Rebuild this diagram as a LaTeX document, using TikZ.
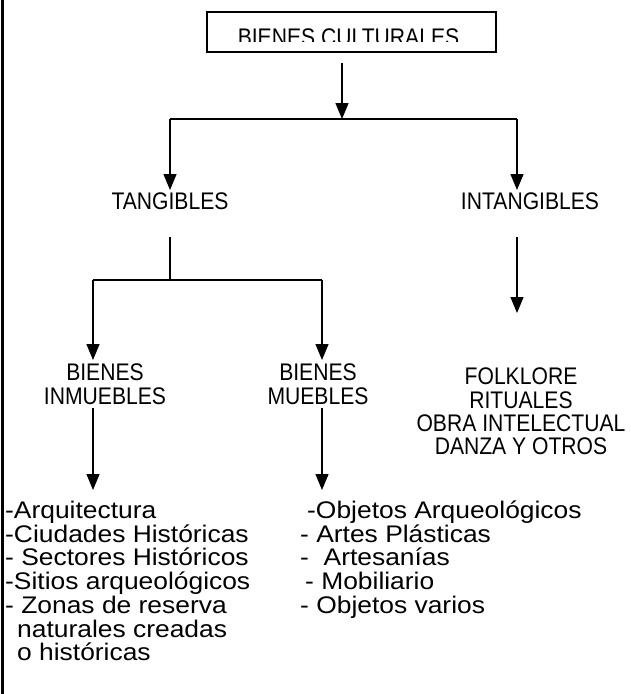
\documentclass[tikz,border=0pt]{standalone}
\usepackage{fontspec}
\setmainfont{Liberation Sans}
\newfontfamily\hdrfont{Liberation Sans}[FakeStretch=0.88]
\newfontfamily\listfont{Liberation Sans}[FakeStretch=1.1]
\usetikzlibrary{arrows.meta}
\begin{document}
\begin{tikzpicture}[x=1pt,y=-1pt,
  conn/.style={line width=1.4pt},
  arr/.style={conn,-{Triangle[length=16pt,width=13pt]}},
  hdr/.style={font=\hdrfont\fontsize{24}{23.3}\selectfont, inner sep=0pt, align=center},
  item/.style={font=\listfont\fontsize{24}{23.7}\selectfont, inner sep=0pt, anchor=base west,
    text height=17pt, text depth=5pt}]
\useasboundingbox (0,0) rectangle (631,694);
\draw[line width=3pt] (2,0) -- (2,694);

% title box with clipped text
\node[draw, line width=1.6pt, minimum width=289pt, minimum height=40pt, inner sep=0pt] (title) at (351.5,32) {};
\begin{scope}
  \clip (209,13) rectangle (494,41);
  \node[font=\hdrfont\fontsize{24}{23}\selectfont, inner sep=0pt, anchor=base] (titletext) at (348.5,45) {BIENES CULTURALES};
\end{scope}

% level 1
\coordinate (t0) at (342,63);
\coordinate (j1) at (342,119);
\coordinate (jL) at (170,119);
\coordinate (jR) at (517,119);
\node[hdr] (tang) at (170,201) {TANGIBLES};
\node[hdr] (intang) at (530,201) {INTANGIBLES};
\draw[arr] (t0) -- (j1);
\draw[conn] (jL) -- (jR);
\draw[arr] (jL) -- (170,190);
\draw[arr] (jR) -- (517,190);

% level 2
\coordinate (t1) at (170,237);
\coordinate (t2) at (170,280);
\coordinate (jLL) at (93,280);
\coordinate (jLR) at (322,280);
\draw[conn] (t1) -- (t2);
\draw[conn] (jLL) -- (jLR);
\node[hdr, anchor=north] (inm) at (105,364) {BIENES\\INMUEBLES};
\node[hdr, anchor=north] (mue) at (318,364) {BIENES\\MUEBLES};
\draw[arr] (jLL) -- (93,360);
\draw[arr] (jLR) -- (322,360);

\coordinate (i1) at (517,237);
\node[hdr, anchor=north] (folk) at (521,368) {FOLKLORE\\RITUALES\\OBRA INTELECTUAL\\DANZA Y OTROS};
\draw[arr] (i1) -- (517,313);

% level 3
\coordinate (a1) at (93,408);
\coordinate (a2) at (322,408);
\draw[arr] (a1) -- (93,490);
\draw[arr] (a2) -- (322,490);

\node[item] (l1) at (5,518.5) {-Arquitectura};
\node[item] (l2) at (5,542.2) {-Ciudades Históricas};
\node[item] (l3) at (5,565.9) {- Sectores Históricos};
\node[item] (l4) at (5,589.6) {-Sitios arqueológicos};
\node[item] (l5) at (5,613.3) {- Zonas de reserva};
\node[item] (l6) at (17,637) {naturales creadas};
\node[item] (l7) at (17,660.7) {o históricas};

\node[item] (r1) at (307,518.5) {-Objetos Arqueológicos};
\node[item] (r2) at (300,542.2) {- Artes Plásticas};
\node[item] (r3) at (300,565.9) {-\ \ Artesanías};
\node[item] (r4) at (305,589.6) {- Mobiliario};
\node[item] (r5) at (300,613.3) {- Objetos varios};
\end{tikzpicture}
\end{document}
